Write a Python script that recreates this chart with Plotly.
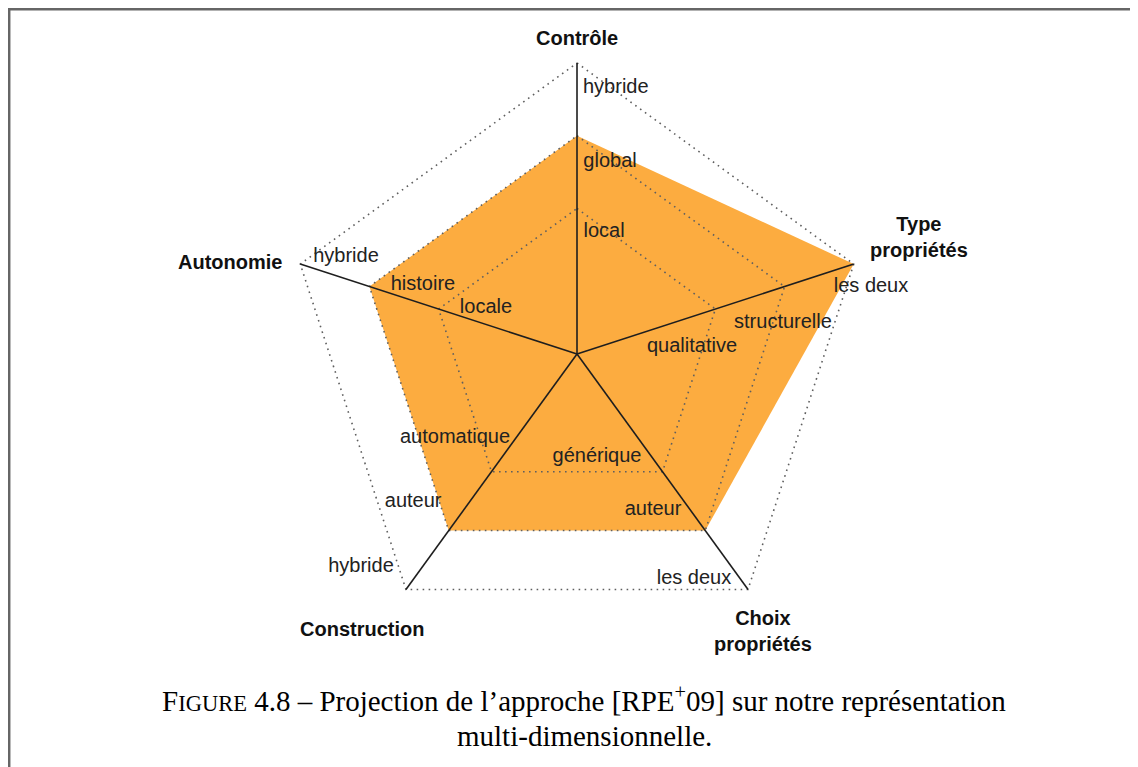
import math
import plotly.graph_objects as go

# ---------------- data ----------------
axes = ["Contrôle", "Type propriétés", "Choix propriétés", "Construction", "Autonomie"]
axis_titles = ["Contrôle", "Type<br>propriétés", "Choix<br>propriétés", "Construction", "Autonomie"]
levels = [2, 3, 4]
level_labels = [
    ["local", "global", "hybride"],
    ["qualitative", "structurelle", "les deux"],
    ["générique", "auteur", "les deux"],
    ["automatique", "auteur", "hybride"],
    ["locale", "histoire", "hybride"],
]
approach = [3, 4, 3, 3, 3]
r_max = 4

caption_line1 = ('<span style="font-size:29px">F</span><span style="font-size:22.5px">IGURE</span>'
                 ' 4.8 – Projection de l’approche [RPE<sup>+</sup>09] sur notre représentation')
caption_line2 = "multi-dimensionnelle."

# ---------------- style ----------------
ORANGE = "#FCAC40"
GRID = "#5f5f5f"
SPOKE = "#1e1e1e"
FONT = "Liberation Sans, Arial, sans-serif"
SERIF = "Liberation Serif, Times New Roman, serif"

W, H = 1130, 759            # page body has an 8px margin
cx, cy, R = 569, 346, 291   # polar centre / radius of the outer level (px)
unit = R / r_max
r_range = 4.3               # radial range (room for labels just outside level 4)

# angular position of each axis (clockwise from top)
angles = [90 - 72 * i for i in range(len(axes))]

# placement nudges (dr, dtheta) for the level labels
label_nudge = [
    [(-0.28, -12.5), (-0.32, -9.75), (-0.305, -8.3)],
    [(-0.416, -14.5), (-0.137, -9.44), (0.145, -5.16)],
    [(-0.558, -25.0), (-0.615, -10.0), (-0.514, -8.53)],
    [(0.036, -19.45), (0.036, -11.9), (0.17, -9.4)],
    [(-0.598, -8.8), (-0.68, -6.1), (-0.556, -4.8)],
]
# axis title placement (radius in level units, dtheta)
title_place = [(4.344, 0.0), (4.969, 0.89), (4.587, -2.13), (4.798, -2.02), (4.935, 3.15)]

fig = go.Figure()

# filled approach polygon
fig.add_trace(go.Scatterpolar(
    r=approach + [approach[0]], theta=angles + [angles[0]],
    mode="lines", fill="toself", fillcolor=ORANGE,
    line=dict(width=0, color="rgba(0,0,0,0)"),
    hoverinfo="skip", showlegend=False, cliponaxis=False,
))

# dotted level pentagons
for lv in levels:
    fig.add_trace(go.Scatterpolar(
        r=[lv] * (len(axes) + 1), theta=angles + [angles[0]],
        mode="lines", line=dict(color=GRID, width=1.6, dash="1.6px,4.4px"),
        hoverinfo="skip", showlegend=False, cliponaxis=False,
    ))

# spokes
sr, st = [], []
for a in angles:
    sr += [0, r_max, None]
    st += [a, a, None]
fig.add_trace(go.Scatterpolar(
    r=sr, theta=st, mode="lines", line=dict(color=SPOKE, width=1.6),
    hoverinfo="skip", showlegend=False, cliponaxis=False,
))

# level labels
lr, lt, ltxt = [], [], []
for i, a in enumerate(angles):
    for j, lv in enumerate(levels):
        dr, dth = label_nudge[i][j]
        lr.append(lv + dr)
        lt.append(a + dth)
        ltxt.append(level_labels[i][j])
fig.add_trace(go.Scatterpolar(
    r=lr, theta=lt, mode="text", text=ltxt, textposition="middle center",
    textfont=dict(family=FONT, size=20, color="#222222"),
    hoverinfo="skip", showlegend=False, cliponaxis=False,
))

# axis titles (outside the radial range -> placed as annotations)
annotations = []
for a, t, (rr, dth) in zip(angles, axis_titles, title_place):
    th = math.radians(a + dth)
    px = cx + rr * unit * math.cos(th)
    py = cy - rr * unit * math.sin(th)
    annotations.append(dict(
        text=f"<b>{t}</b>", x=px / W, y=1 - py / H, xref="paper", yref="paper",
        showarrow=False, xanchor="center", yanchor="middle", align="center",
        font=dict(family=FONT, size=20, color="#111111"),
    ))

annotations += [
    dict(text=caption_line1, x=576 / W, y=1 - 691 / H, xref="paper", yref="paper",
         showarrow=False, xanchor="center", yanchor="middle",
         font=dict(family=SERIF, size=29, color="black")),
    dict(text=caption_line2, x=576 / W, y=1 - 728 / H, xref="paper", yref="paper",
         showarrow=False, xanchor="center", yanchor="middle",
         font=dict(family=SERIF, size=29, color="black")),
]

Rr = r_range * unit
fig.update_layout(
    width=W, height=H,
    margin=dict(l=0, r=0, t=0, b=0),
    paper_bgcolor="white",
    polar=dict(
        domain=dict(x=[(cx - Rr) / W, (cx + Rr) / W], y=[(H - cy - Rr) / H, (H - cy + Rr) / H]),
        bgcolor="rgba(0,0,0,0)",
        radialaxis=dict(range=[0, r_range], visible=False),
        angularaxis=dict(visible=False, showgrid=False, showline=False,
                         showticklabels=False, ticks=""),
    ),
    shapes=[dict(type="rect", xref="paper", yref="paper",
                 x0=1.2 / W, x1=1.02, y0=-0.02, y1=1 - 1.2 / H,
                 line=dict(color="#666666", width=2.5))],
    annotations=annotations,
)

fig.write_html("out.html")
